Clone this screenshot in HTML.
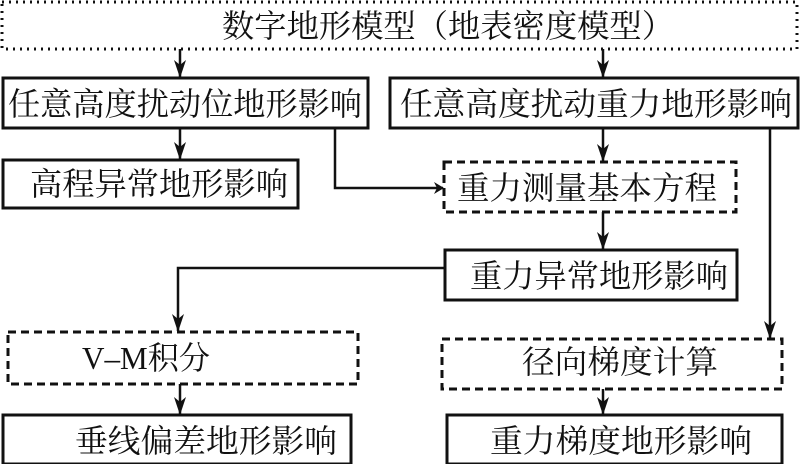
<!DOCTYPE html>
<html><head><meta charset="utf-8"><style>
html,body{margin:0;padding:0;background:#fff;}
svg text{font-family:"Liberation Serif","Noto Serif CJK SC",serif;fill:#111;}
</style></head><body>
<svg width="800" height="464" viewBox="0 0 800 464" xmlns="http://www.w3.org/2000/svg">
<defs><marker id="a" markerWidth="10" markerHeight="12" refX="9" refY="6" orient="auto" markerUnits="userSpaceOnUse"><path d="M0,0 L10,6 L0,12 L3,6 Z" fill="#111"/></marker>
<marker id="d" markerWidth="12" markerHeight="18" refX="6" refY="17" orient="0" markerUnits="userSpaceOnUse"><path d="M0,0 L6,18 L12,0 L6,5 Z" fill="#111"/></marker></defs>
<g fill="none" stroke="#111" stroke-width="3">
<rect x="2" y="2" width="795" height="47" stroke-dasharray="2,5"/>
<rect x="3" y="78" width="365" height="50"/>
<rect x="390" y="78" width="408" height="50"/>
<rect x="3" y="160" width="295" height="48"/>
<rect x="444" y="162" width="292" height="50" stroke-dasharray="8,5"/>
<rect x="445" y="250" width="292" height="50"/>
<rect x="8" y="332" width="350" height="52" stroke-dasharray="8,5"/>
<rect x="442" y="339" width="340" height="50" stroke-dasharray="8,5"/>
<rect x="3" y="415" width="348" height="49"/>
<rect x="447" y="415" width="335" height="49"/>
</g>
<g fill="none" stroke="#111" stroke-width="2.5">
<path d="M180 49 V77" marker-end="url(#d)"/>
<path d="M603 49 V77" marker-end="url(#d)"/>
<path d="M180 128 V159" marker-end="url(#d)"/>
<path d="M603 128 V161" marker-end="url(#d)"/>
<path d="M335 128 V188 H443" marker-end="url(#a)"/>
<path d="M770 128 V338" marker-end="url(#d)"/>
<path d="M603 212 V249" marker-end="url(#d)"/>
<path d="M445 268 H178 V331" marker-end="url(#d)"/>
<path d="M180 384 V414" marker-end="url(#d)"/>
<path d="M603 389 V414" marker-end="url(#d)"/>
</g>
<g font-size="32">
<text x="222" y="37" textLength="452" lengthAdjust="spacingAndGlyphs">数字地形模型（地表密度模型）</text>
<text x="8" y="115" textLength="354" lengthAdjust="spacingAndGlyphs">任意高度扰动位地形影响</text>
<text x="400" y="115" textLength="392" lengthAdjust="spacingAndGlyphs">任意高度扰动重力地形影响</text>
<text x="30" y="195" textLength="258" lengthAdjust="spacingAndGlyphs">高程异常地形影响</text>
<text x="457" y="199" textLength="260" lengthAdjust="spacingAndGlyphs">重力测量基本方程</text>
<text x="470" y="287" textLength="258" lengthAdjust="spacingAndGlyphs">重力异常地形影响</text>
<text x="82" y="369" textLength="128" lengthAdjust="spacingAndGlyphs">V–M积分</text>
<text x="522" y="373" textLength="196" lengthAdjust="spacingAndGlyphs">径向梯度计算</text>
<text x="75" y="452" textLength="262" lengthAdjust="spacingAndGlyphs">垂线偏差地形影响</text>
<text x="490" y="452" textLength="262" lengthAdjust="spacingAndGlyphs">重力梯度地形影响</text>
</g>
</svg>
</body></html>
